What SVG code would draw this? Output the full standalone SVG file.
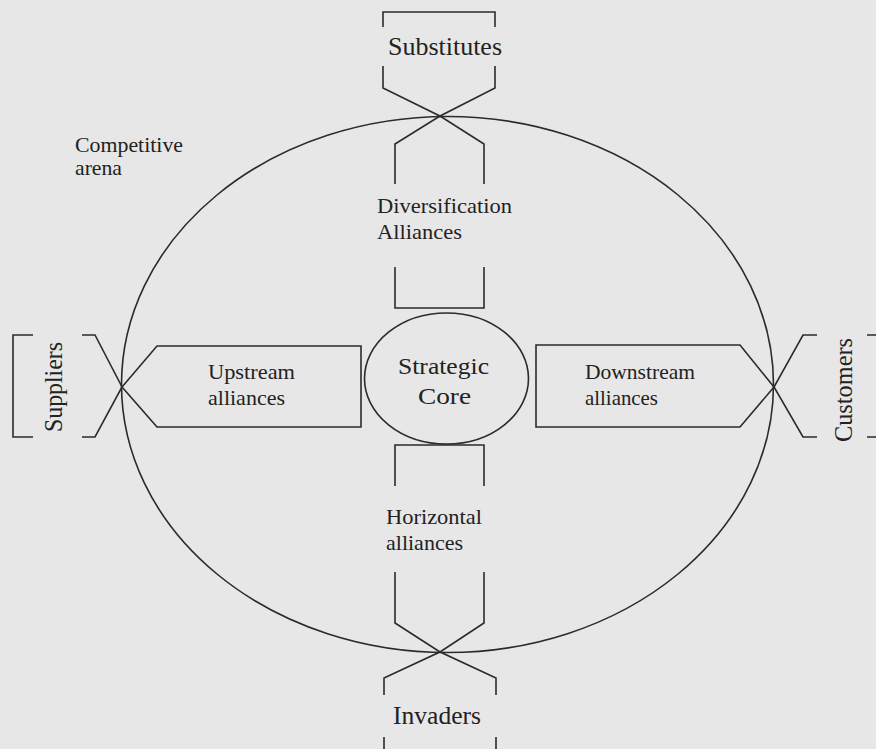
<svg xmlns="http://www.w3.org/2000/svg" width="876" height="749" viewBox="0 0 876 749">
  <style>
    .ln { fill: none; stroke: #2b2b2b; stroke-width: 1.6; stroke-linejoin: miter; stroke-linecap: butt; }
    .t { font-family: "Liberation Serif", "Times New Roman", serif; fill: #222; }
    .big { font-size: 25px; }
    .mid { font-size: 22px; }
    .core { font-size: 24px; }
  </style>
  <rect x="0" y="0" width="876" height="749" fill="#e7e7e7"/>

  <!-- outer competitive arena -->
  <g id="arena">
    <ellipse class="ln" cx="447.5" cy="384.5" rx="326" ry="268"/>
    <text class="t mid" x="75" y="152" textLength="108" lengthAdjust="spacingAndGlyphs">Competitive</text>
    <text class="t mid" x="75" y="175" textLength="47" lengthAdjust="spacingAndGlyphs">arena</text>
  </g>

  <!-- outside forces: bracket shapes ending in an X at the arena edge -->
  <g id="substitutes">
    <polyline class="ln" points="383,27 383,12 495,12 495,27"/>
    <polyline class="ln" points="383,66 383,88 440,116 495,88 495,66"/>
    <text class="t big" x="445" y="55" text-anchor="middle" textLength="114" lengthAdjust="spacingAndGlyphs">Substitutes</text>
  </g>

  <g id="invaders">
    <polyline class="ln" points="384,695 384,678 440,652 496,678 496,695"/>
    <polyline class="ln" points="384,737 384,754 496,754 496,737"/>
    <text class="t big" x="437" y="724" text-anchor="middle" textLength="88" lengthAdjust="spacingAndGlyphs">Invaders</text>
  </g>

  <g id="suppliers">
    <polyline class="ln" points="33,335 13,335 13,437 33,437"/>
    <polyline class="ln" points="82,335 95,335 122,387 95,437 82,437"/>
    <text class="t big" transform="translate(62,387) rotate(-90)" text-anchor="middle" textLength="90" lengthAdjust="spacingAndGlyphs">Suppliers</text>
  </g>

  <g id="customers">
    <polyline class="ln" points="817,335 803,335 774,387 803,437 817,437"/>
    <polyline class="ln" points="867,335 883,335 883,437 867,437"/>
    <text class="t big" transform="translate(852,390) rotate(-90)" text-anchor="middle" textLength="104" lengthAdjust="spacingAndGlyphs">Customers</text>
  </g>

  <!-- alliance arrows inside the arena -->
  <g id="diversification">
    <polyline class="ln" points="395,184 395,144 440,116 484,144 484,184"/>
    <polyline class="ln" points="395,267 395,308 484,308 484,267"/>
    <text class="t mid" x="377" y="213" textLength="135" lengthAdjust="spacingAndGlyphs">Diversification</text>
    <text class="t mid" x="377" y="239" textLength="85" lengthAdjust="spacingAndGlyphs">Alliances</text>
  </g>

  <g id="upstream">
    <polygon class="ln" points="122,387 157,346 361,346 361,427 157,427"/>
    <text class="t mid" x="208" y="379" textLength="87" lengthAdjust="spacingAndGlyphs">Upstream</text>
    <text class="t mid" x="208" y="405" textLength="77" lengthAdjust="spacingAndGlyphs">alliances</text>
  </g>

  <g id="downstream">
    <polygon class="ln" points="536,345 740,345 774,387 740,427 536,427"/>
    <text class="t mid" x="585" y="379" textLength="110" lengthAdjust="spacingAndGlyphs">Downstream</text>
    <text class="t mid" x="585" y="405" textLength="73" lengthAdjust="spacingAndGlyphs">alliances</text>
  </g>

  <g id="horizontal">
    <polyline class="ln" points="395,486 395,445 484,445 484,486"/>
    <polyline class="ln" points="395,572 395,623 440,652 484,623 484,572"/>
    <text class="t mid" x="386" y="524" textLength="96" lengthAdjust="spacingAndGlyphs">Horizontal</text>
    <text class="t mid" x="386" y="550" textLength="77" lengthAdjust="spacingAndGlyphs">alliances</text>
  </g>

  <g id="strategic-core">
    <ellipse class="ln" cx="446.5" cy="378.5" rx="82" ry="65.5"/>
    <text class="t core" x="443.5" y="374" text-anchor="middle" textLength="91" lengthAdjust="spacingAndGlyphs">Strategic</text>
    <text class="t core" x="444.5" y="404" text-anchor="middle" textLength="53" lengthAdjust="spacingAndGlyphs">Core</text>
  </g>

  <!-- the arrows meet the arena edge directly; no separate connector lines -->
  <g id="connectors"/>
</svg>
